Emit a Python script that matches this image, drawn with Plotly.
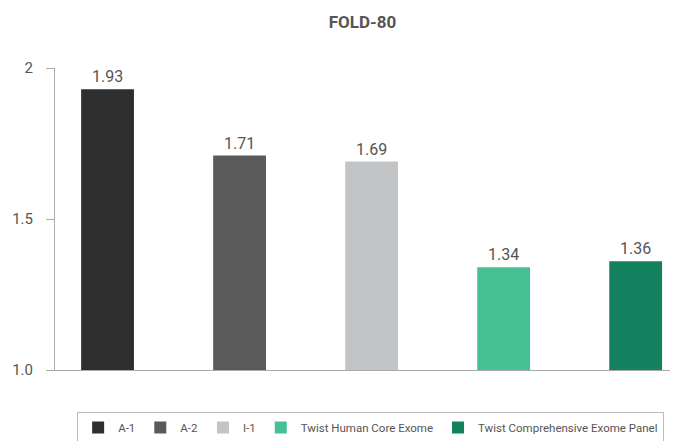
import plotly.graph_objects as go

categories = ["A-1", "A-2", "I-1", "Twist Human Core Exome", "Twist Comprehensive Exome Panel"]
values = [1.93, 1.71, 1.69, 1.34, 1.36]
labels = ["1.93", "1.71", "1.69", "1.34", "1.36"]
colors = ["#2d2e2d", "#595a59", "#c3c4c5", "#48c095", "#13805e"]
tick_vals = [1.0, 1.5, 2.0]
tick_text = ["1.0", "1.5", "2"]

FONT = "Roboto"
fig = go.Figure()
for i, (c, v, t, col) in enumerate(zip(categories, values, labels, colors)):
    fig.add_trace(go.Bar(
        x=[i], y=[v - 1.0], base=1.0, name=c, marker=dict(color=col, line=dict(width=0)),
        width=0.4, text=[t], textposition="outside", cliponaxis=False,
        textfont=dict(family=FONT, size=16, color="#555555"),
    ))

fig.update_layout(
    width=680, height=441,
    margin=dict(l=55, r=10, t=68, b=71, autoexpand=False),
    paper_bgcolor="white", plot_bgcolor="white",
    barmode="overlay",
    title=dict(text="<b>FOLD-80</b>", x=0.5, xref="paper", y=0.95, yref="container",
               xanchor="center", yanchor="middle",
               font=dict(family=FONT, size=17, color="#555555")),
    xaxis=dict(range=[-0.398, 4.26], showticklabels=False, ticks="", showgrid=False,
               zeroline=False, showline=True, linecolor="#aaaaaa", linewidth=1),
    yaxis=dict(range=[1.0, 2.0], tickvals=tick_vals, ticktext=tick_text, ticks="outside",
               ticklen=8, tickcolor="#aaaaaa", showgrid=False, zeroline=False,
               showline=True, linecolor="#aaaaaa", linewidth=1, ticklabelstandoff=10,
               tickfont=dict(family=FONT, size=15, color="#555555")),
    legend=dict(orientation="h", x=0.036, xanchor="left", y=-0.139, yanchor="top",
                bordercolor="#bbbbbb", borderwidth=1,
                font=dict(family=FONT, size=11.5, color="#555555"), itemwidth=30),
    showlegend=True,
)
fig.write_html("out.html", config={"displayModeBar": False},
               post_script="document.body.style.margin='0';")
